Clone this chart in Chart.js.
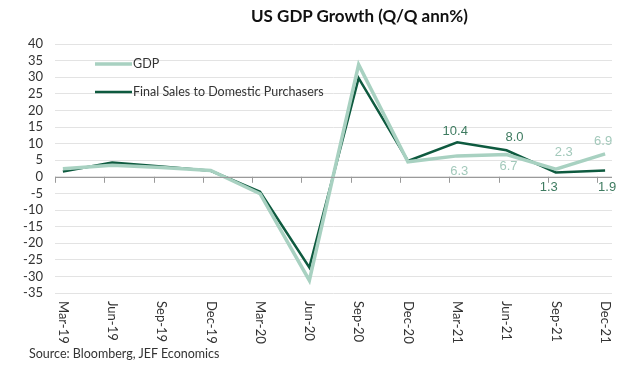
<!DOCTYPE html>
<html>
<head>
<meta charset="utf-8">
<script src="https://cdn.jsdelivr.net/npm/chart.js@4.4.1/dist/chart.umd.min.js"></script>
<style>
  html, body { margin: 0; padding: 0; background: #fff; }
  #wrap { position: relative; width: 634px; height: 367px; overflow: hidden; }
  #title { position: absolute; top: 5px; left: 251px; font: bold 17px Lato, sans-serif; color: #111; white-space: nowrap; }
  #source { position: absolute; top: 346px; left: 29px; font: 12.5px Lato, sans-serif; color: #333; white-space: nowrap; }
</style>
</head>
<body>
<div id="wrap">
  <canvas id="gdpChart" width="634" height="367"></canvas>
  <div id="title">US GDP Growth (Q/Q ann%)</div>
  <div id="source">Source: Bloomberg, JEF Economics</div>
</div>
<script>
// Quarterly data, Q/Q annualised %
const quarters = ['Mar-19', 'Jun-19', 'Sep-19', 'Dec-19', 'Mar-20', 'Jun-20',
                  'Sep-20', 'Dec-20', 'Mar-21', 'Jun-21', 'Sep-21', 'Dec-21'];
const gdp = [2.4, 3.5, 2.8, 1.9, -5.1, -31.2, 33.8, 4.5, 6.3, 6.7, 2.3, 6.9];
const finalSales = [1.6, 4.3, 3.1, 1.8, -4.5, -27.3, 29.7, 4.8, 10.4, 8.0, 1.3, 1.9];
const yTicks = [40, 35, 30, 25, 20, 15, 10, 5, 0, -5, -10, -15, -20, -25, -30, -35];

const GDP_COLOR = '#a8d1c1';
const FS_COLOR = '#0e5a3f';

// value labels on the last quarters: dataset, index, offset from point
const valueLabels = [
  { ds: 1, i: 8, dx: -2, dy: -11 },
  { ds: 1, i: 9, dx: 8, dy: -13 },
  { ds: 0, i: 8, dx: 2, dy: 16 },
  { ds: 0, i: 9, dx: 2, dy: 12 },
  { ds: 0, i: 10, dx: 8, dy: -17 },
  { ds: 0, i: 11, dx: -2, dy: -12 },
  { ds: 1, i: 10, dx: -7, dy: 15 },
  { ds: 1, i: 11, dx: 2, dy: 17 }
];

const toPoints = arr => arr.map((v, i) => ({ x: i, y: v }));

const extrasPlugin = {
  id: 'extras',
  afterDatasetsDraw(chart) {
    const { ctx, scales: { x, y } } = chart;
    const y0 = y.getPixelForValue(0);
    ctx.save();

    // zero line + tick marks
    ctx.strokeStyle = '#9a9a9a';
    ctx.lineWidth = 1;
    ctx.beginPath();
    ctx.moveTo(chart.chartArea.left, Math.round(y0) + 0.5);
    ctx.lineTo(chart.chartArea.right, Math.round(y0) + 0.5);
    quarters.forEach((q, i) => {
      const px = Math.round(x.getPixelForValue(i - 0.16)) + 0.5;
      ctx.moveTo(px, y0);
      ctx.lineTo(px, y0 + 6);
    });
    ctx.stroke();

    // rotated category labels (reading downward)
    ctx.fillStyle = '#333';
    ctx.font = '13px Lato, sans-serif';
    ctx.textAlign = 'left';
    ctx.textBaseline = 'middle';
    quarters.forEach((q, i) => {
      ctx.save();
      ctx.translate(x.getPixelForValue(i), 301);
      ctx.rotate(Math.PI / 2);
      ctx.fillText(q, 0, 0);
      ctx.restore();
    });

    // value labels
    ctx.font = '13px "Liberation Sans", Arial, sans-serif';
    ctx.textAlign = 'center';
    valueLabels.forEach(l => {
      const v = chart.data.datasets[l.ds].data[l.i].y;
      ctx.fillStyle = l.ds === 0 ? '#a3c9bb' : '#3e7b60';
      ctx.fillText(v.toFixed(1), x.getPixelForValue(l.i) + l.dx, y.getPixelForValue(v) + l.dy);
    });

    // legend inside plot
    ctx.font = '12.5px Lato, sans-serif';
    ctx.textAlign = 'left';
    chart.data.datasets.forEach((ds, k) => {
      const ly = 64 + k * 28;
      ctx.strokeStyle = ds.borderColor;
      ctx.lineWidth = ds.borderWidth;
      ctx.beginPath();
      ctx.moveTo(95, ly);
      ctx.lineTo(132, ly);
      ctx.stroke();
      ctx.fillStyle = '#333';
      ctx.fillText(ds.label, 133, ly);
    });
    ctx.restore();
  }
};

new Chart(document.getElementById('gdpChart'), {
  type: 'line',
  data: {
    datasets: [
      { label: 'GDP', data: toPoints(gdp), borderColor: GDP_COLOR, borderWidth: 3.5,
        pointRadius: 0, tension: 0 },
      { label: 'Final Sales to Domestic Purchasers', data: toPoints(finalSales), borderColor: FS_COLOR,
        borderWidth: 2.5, pointRadius: 0, tension: 0 }
    ]
  },
  options: {
    responsive: false,
    animation: false,
    layout: { padding: { top: 44, right: 22, left: 0, bottom: 0 } },
    plugins: { legend: { display: false }, tooltip: { enabled: false } },
    scales: {
      x: {
        type: 'linear', min: -0.16, max: 11.14,
        grid: { display: false }, border: { display: false },
        ticks: { display: false },
        afterFit: s => { s.height = 74; }
      },
      y: {
        min: -35, max: 40,
        afterBuildTicks: s => { s.ticks = yTicks.map(v => ({ value: v })); },
        grid: { color: '#e3e3e3', lineWidth: 1, drawTicks: false },
        border: { display: false },
        ticks: { padding: 12, color: '#333', autoSkip: false, font: { family: 'Lato', size: 13 } },
        afterFit: s => { s.width = 55; }
      }
    }
  },
  plugins: [extrasPlugin]
});
</script>
</body>
</html>
